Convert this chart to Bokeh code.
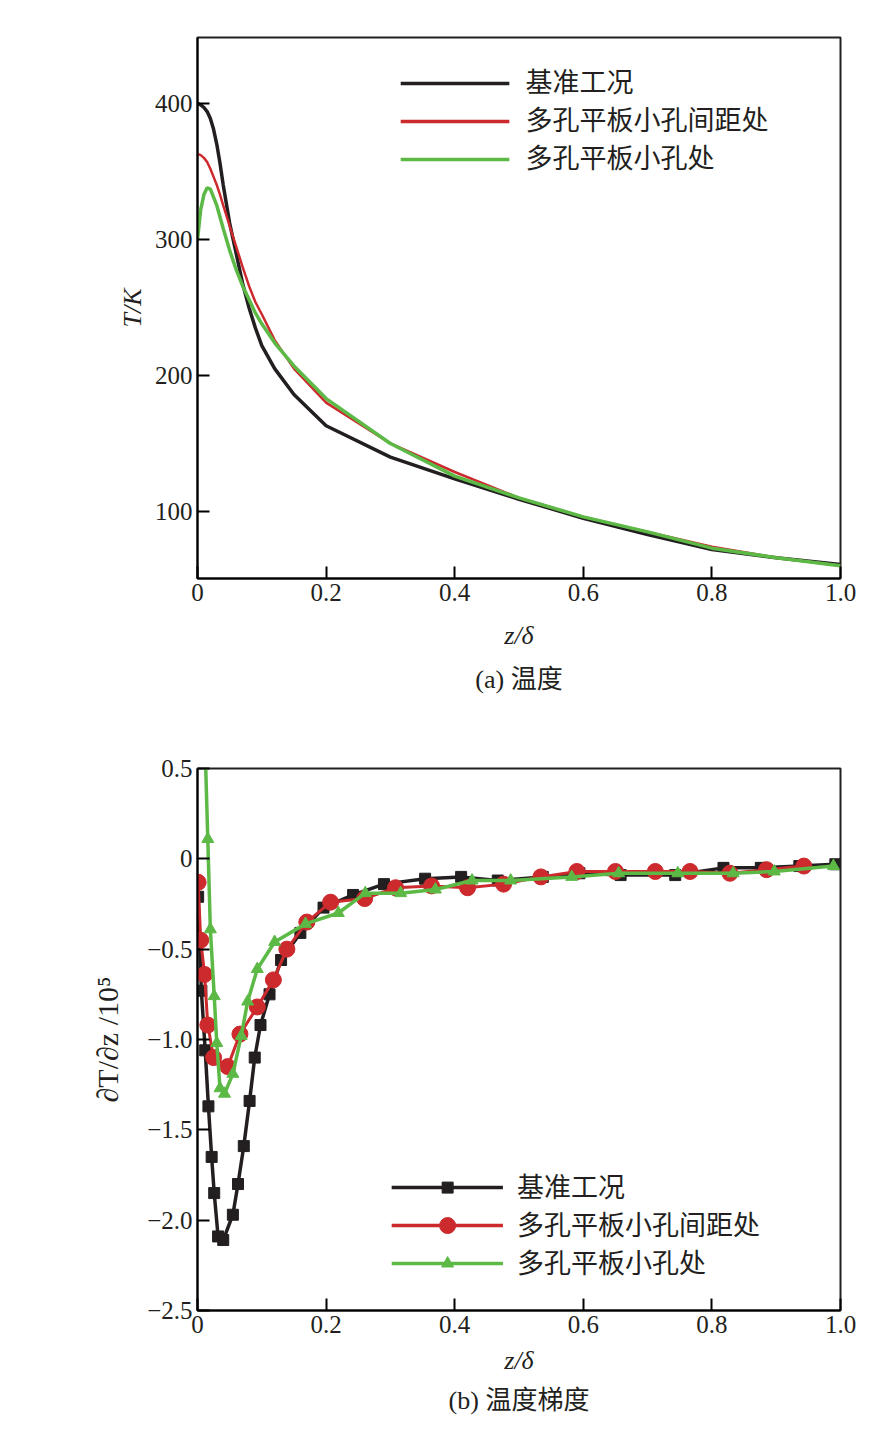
from bokeh.plotting import figure
from bokeh.layouts import column
from bokeh.models import Title, Range1d, FixedTicker
from bokeh.core.properties import value
from bokeh.embed import file_html
from bokeh.resources import INLINE

names = ["基准工况", "多孔平板小孔间距处", "多孔平板小孔处"]
colors = ["#231f20", "#cc2a2d", "#5cb946"]

# (a) temperature
ta_x_black = [0, 0.005, 0.01, 0.015, 0.02, 0.025, 0.03, 0.035, 0.04, 0.05, 0.06, 0.07, 0.08, 0.09, 0.1, 0.12, 0.15, 0.2, 0.3, 0.4, 0.5, 0.6, 0.7, 0.8, 0.9, 1.0]
ta_y_black = [400, 399, 397, 394, 389, 381, 370, 356, 340, 312, 290, 268, 250, 235, 222, 205, 186, 163, 140, 124, 109, 95, 83, 72, 66, 61]
ta_x_red = [0, 0.005, 0.01, 0.015, 0.02, 0.025, 0.03, 0.035, 0.04, 0.05, 0.06, 0.07, 0.08, 0.09, 0.1, 0.12, 0.15, 0.2, 0.3, 0.4, 0.5, 0.6, 0.7, 0.8, 0.9, 1.0]
ta_y_red = [363, 362, 360, 357, 352, 346, 340, 333, 325, 310, 295, 280, 266, 254, 245, 226, 205, 180, 150, 129, 110, 96, 85, 74, 66, 60]
ta_x_green = [0, 0.005, 0.01, 0.015, 0.02, 0.03, 0.04, 0.05, 0.06, 0.07, 0.08, 0.09, 0.1, 0.12, 0.15, 0.2, 0.3, 0.4, 0.5, 0.6, 0.7, 0.8, 0.9, 1.0]
ta_y_green = [300, 322, 333, 338, 337, 325, 308, 292, 278, 266, 256, 246, 238, 224, 207, 183, 150, 126, 110, 96, 85, 73, 66, 60]

# (b) gradient
tb_x_black = [0.001, 0.006, 0.012, 0.017, 0.022, 0.026, 0.032, 0.04, 0.055, 0.063, 0.072, 0.081, 0.089, 0.098, 0.112, 0.13, 0.16, 0.196, 0.242, 0.29, 0.354, 0.41, 0.467, 0.537, 0.594, 0.658, 0.743, 0.818, 0.876, 0.936, 0.992]
tb_y_black = [-0.21, -0.73, -1.06, -1.37, -1.65, -1.85, -2.09, -2.11, -1.97, -1.8, -1.59, -1.34, -1.1, -0.92, -0.75, -0.56, -0.41, -0.27, -0.2, -0.14, -0.11, -0.1, -0.12, -0.1, -0.08, -0.09, -0.09, -0.05, -0.05, -0.04, -0.03]
tb_x_red = [0.001, 0.005, 0.011, 0.016, 0.025, 0.047, 0.066, 0.093, 0.118, 0.139, 0.17, 0.207, 0.26, 0.308, 0.364, 0.42, 0.476, 0.534, 0.59, 0.65, 0.712, 0.766, 0.828, 0.885, 0.943]
tb_y_red = [-0.13, -0.45, -0.64, -0.92, -1.1, -1.15, -0.97, -0.82, -0.67, -0.5, -0.35, -0.24, -0.22, -0.16, -0.15, -0.16, -0.14, -0.1, -0.07, -0.07, -0.07, -0.07, -0.08, -0.06, -0.04]
tb_x_green = [0.012, 0.016, 0.02, 0.026, 0.03, 0.035, 0.042, 0.055, 0.068, 0.078, 0.093, 0.12, 0.168, 0.219, 0.261, 0.316, 0.37, 0.427, 0.487, 0.582, 0.655, 0.747, 0.833, 0.897, 0.989]
tb_y_green = [0.6, 0.11, -0.39, -0.76, -1.02, -1.27, -1.3, -1.19, -0.98, -0.79, -0.61, -0.46, -0.36, -0.3, -0.19, -0.19, -0.17, -0.12, -0.12, -0.1, -0.08, -0.08, -0.08, -0.07, -0.04]

FONT = "Liberation Serif, Noto Sans CJK SC"

def style(p):
    p.outline_line_color = "#231f20"
    p.outline_line_width = 2
    p.grid.visible = False
    for ax in [p.xaxis[0], p.yaxis[0]]:
        ax.major_tick_in = 12
        ax.major_tick_out = 0
        ax.minor_tick_line_color = None
        ax.axis_line_width = 2
        ax.major_tick_line_width = 2
        ax.major_label_text_font = FONT
        ax.major_label_text_font_size = "25px"
        ax.major_label_text_color = "#231f20"
        ax.axis_label_text_font = FONT
        ax.axis_label_text_font_size = "26px"
        ax.axis_label_text_font_style = "italic"
        ax.axis_label_text_color = "#231f20"

p1 = figure(width=876, height=712, output_backend="svg", toolbar_location=None,
            x_range=Range1d(0, 1.0), y_range=Range1d(50.7, 448.5),
            min_border_left=197, min_border_right=27, min_border_top=37, min_border_bottom=134)
style(p1)
p1.xaxis.ticker = FixedTicker(ticks=[0, 0.2, 0.4, 0.6, 0.8, 1.0])
p1.xaxis.major_label_overrides = {0: "0", 1: "1.0"}
p1.yaxis.ticker = FixedTicker(ticks=[100, 200, 300, 400])
p1.xaxis.axis_label = "z/δ"
p1.xaxis.axis_label_standoff = 17
p1.yaxis.axis_label = "T/K"
p1.line(ta_x_black, ta_y_black, color=colors[0], line_width=3.5)
p1.line(ta_x_red, ta_y_red, color=colors[1], line_width=2.5)
p1.line(ta_x_green, ta_y_green, color=colors[2], line_width=3.5)
p1.add_layout(Title(text="(a) 温度", align="center", text_font=FONT, text_font_size="26px",
                    text_font_style="normal", text_color="#231f20", standoff=20), "below")
for i, py in enumerate([83, 121, 159]):
    yv = 400 - (py - 103) / 1.36
    p1.line([0.316, 0.485], [yv, yv], color=colors[i], line_width=3.5)
    p1.text([0.51], [yv], text=[names[i]], text_font=value(FONT),
            text_font_size="27px", text_baseline="middle", text_color="#231f20")

p2 = figure(width=876, height=710, output_backend="svg", toolbar_location=None,
            x_range=Range1d(0, 1.0), y_range=Range1d(-2.5, 0.5),
            min_border_left=187, min_border_right=36, min_border_top=56, min_border_bottom=112)
style(p2)
p2.xaxis.ticker = FixedTicker(ticks=[0, 0.2, 0.4, 0.6, 0.8, 1.0])
p2.xaxis.major_label_overrides = {0: "0", 1: "1.0"}
p2.yaxis.ticker = FixedTicker(ticks=[0.5, 0, -0.5, -1.0, -1.5, -2.0, -2.5])
p2.yaxis.major_label_overrides = {0.5: "0.5", 0: "0", -0.5: "−0.5", -1.0: "−1.0", -1.5: "−1.5", -2.0: "−2.0", -2.5: "−2.5"}
p2.yaxis.axis_label = "∂T/∂z /10⁵"
p2.yaxis.axis_label_text_font_style = "normal"
p2.yaxis.axis_label_text_font_size = "30px"
p2.yaxis.axis_label_standoff = 20
p2.xaxis.axis_label = "z/δ"
p2.xaxis.axis_label_standoff = 10
p2.line(tb_x_black, tb_y_black, color=colors[0], line_width=3.5)
p2.scatter(tb_x_black, tb_y_black, marker="square", size=11, color=colors[0])
p2.line(tb_x_red, tb_y_red, color=colors[1], line_width=3)
p2.scatter(tb_x_red, tb_y_red, marker="circle", size=16, color=colors[1])
p2.line(tb_x_green, tb_y_green, color=colors[2], line_width=3.5)
p2.scatter(tb_x_green, tb_y_green, marker="triangle", size=12, color=colors[2])
mk = ["square", "circle", "triangle"]
sz = [11, 16, 12]
for i, py in enumerate([1187, 1225, 1263]):
    yv = (858 - py) / 180.8
    p2.line([0.302, 0.475], [yv, yv], color=colors[i], line_width=3.5)
    p2.scatter([0.389], [yv], marker=mk[i], size=sz[i], color=colors[i])
    p2.text([0.497], [yv], text=[names[i]], text_font=value(FONT),
            text_font_size="27px", text_baseline="middle", text_color="#231f20")
p2.add_layout(Title(text="(b) 温度梯度", align="center", text_font=FONT, text_font_size="26px",
                    text_font_style="normal", text_color="#231f20", standoff=12), "below")

out = column(p1, p2, spacing=0)
open("out.html", "w").write(file_html(out, INLINE))
